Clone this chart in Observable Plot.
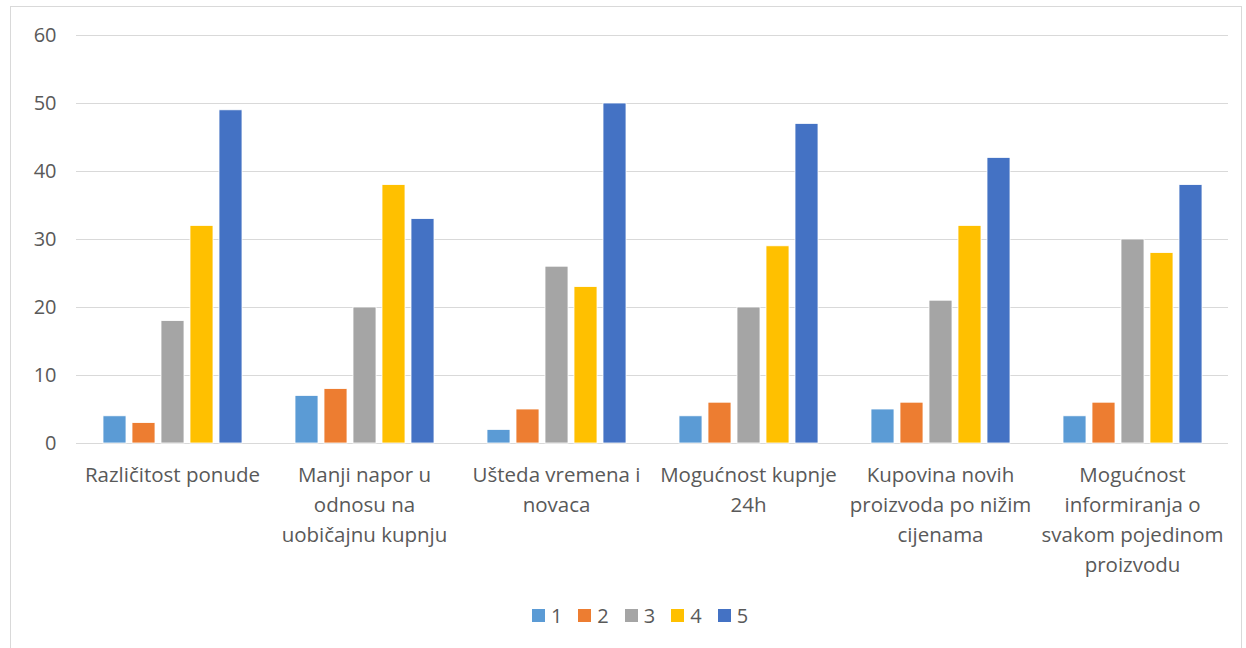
<!DOCTYPE html>
<html>
<head>
<meta charset="utf-8">
<script src="https://cdn.jsdelivr.net/npm/d3@7"></script>
<script src="https://cdn.jsdelivr.net/npm/@observablehq/plot@0.6"></script>
<style>
  body { margin: 0; background: #fff; font-family: "Open Sans", "Noto Sans", sans-serif; }
  #frame { position: absolute; left: 10px; top: 6px; width: 1232px; height: 660px; border: 1px solid #d9d9d9; box-sizing: border-box; }
  #chart { position: absolute; left: 0; top: 0; }
  #legend { position: absolute; left: 0; top: 602px; width: 1280px; display: flex; justify-content: center; gap: 0; font-size: 20px; color: #595959; }
  .item { display: flex; align-items: center; margin: 0 8px; }
  .sw { width: 13px; height: 13px; margin-right: 6px; }
</style>
</head>
<body>
<div id="frame"></div>
<div id="chart"></div>
<div id="legend"></div>
<script>
const categories = [
  "Različitost ponude",
  "Manji napor u\nodnosu na\nuobičajnu kupnju",
  "Ušteda vremena i\nnovaca",
  "Mogućnost kupnje\n24h",
  "Kupovina novih\nproizvoda po nižim\ncijenama",
  "Mogućnost\ninformiranja o\nsvakom pojedinom\nproizvodu"
];
const series = ["1", "2", "3", "4", "5"];
const colors = ["#5B9BD5", "#ED7D31", "#A5A5A5", "#FFC000", "#4472C4"];
const values1 = [4, 7, 2, 4, 5, 4];
const values2 = [3, 8, 5, 6, 6, 6];
const values3 = [18, 20, 26, 20, 21, 30];
const values4 = [32, 38, 23, 29, 32, 28];
const values5 = [49, 33, 50, 47, 42, 38];
const yTicks = [0, 10, 20, 30, 40, 50, 60];

const allValues = [values1, values2, values3, values4, values5];
const data = [];
categories.forEach((c, i) => {
  series.forEach((s, j) => data.push({category: c, series: s, value: allValues[j][i]}));
});

const chart = Plot.plot({
  width: 1246,
  height: 590,
  marginTop: 35,
  marginBottom: 147,
  marginLeft: 73,
  marginRight: 16,
  style: {fontFamily: "'Open Sans', 'Noto Sans', sans-serif", fontSize: "20px", color: "#595959", background: "transparent"},
  fx: {domain: categories, padding: 0, axis: null},
  x: {domain: series, paddingInner: 0.22, paddingOuter: 0.88, axis: null},
  y: {domain: [0, 60], axis: null},
  color: {domain: series, range: colors},
  marks: [
    Plot.ruleY(yTicks, {stroke: "#d9d9d9", strokeWidth: 1}),
    Plot.barY(data, {fx: "category", x: "series", y: "value", fill: "series", stroke: "white", strokeWidth: 0.8}),
    Plot.axisY({ticks: yTicks, tickSize: 0, tickPadding: 20, fontSize: 20, fill: "#595959", label: null}),
    Plot.text(categories, {fx: d => d, text: d => d, frameAnchor: "bottom", lineAnchor: "top", dy: 17, lineHeight: 1.46, fill: "#595959", fontSize: 20.5})
  ]
});
document.getElementById("chart").appendChild(chart);

const legend = document.getElementById("legend");
series.forEach((s, i) => {
  const it = document.createElement("div");
  it.className = "item";
  it.innerHTML = `<span class="sw" style="background:${colors[i]}"></span><span>${s}</span>`;
  legend.appendChild(it);
});
</script>
</body>
</html>
